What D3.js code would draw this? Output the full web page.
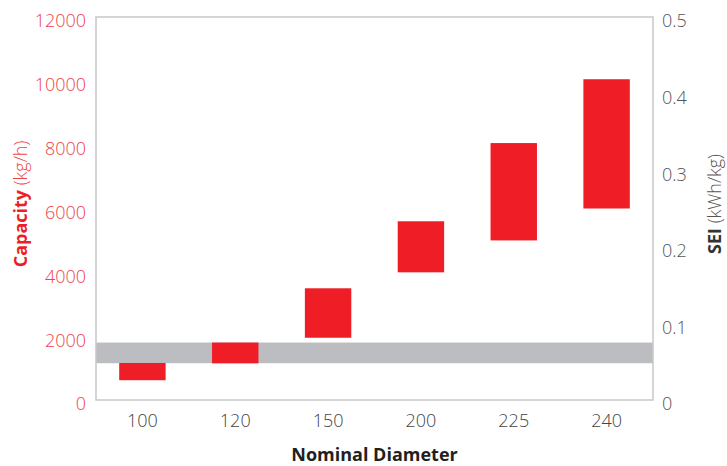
<!DOCTYPE html>
<html>
<head>
<meta charset="utf-8">
<script src="https://cdn.jsdelivr.net/npm/d3@7"></script>
<style>
  body { margin: 0; background: #fff; }
  text { font-family: "Open Sans", sans-serif; }
</style>
</head>
<body>
<script>
// nominal diameters and capacity range per size (kg/h)
const diameters = ["100", "120", "150", "200", "225", "240"];
const capLow  = [620, 1150, 1950, 4000, 5000, 6000];
const capHigh = [1160, 1800, 3500, 5600, 8050, 10050];
// SEI range (kWh/kg), shown as a grey band
const seiBand = [0.048, 0.075];
const capTicks = [0, 2000, 4000, 6000, 8000, 10000, 12000];
const seiTicks = [0, 0.1, 0.2, 0.3, 0.4, 0.5];

const width = 727, height = 466;
const m = {left: 96, right: 74, top: 17, bottom: 66};

const svg = d3.select("body").append("svg")
    .attr("width", width)
    .attr("height", height);

const x = d3.scaleBand()
    .domain(diameters)
    .range([m.left, width - m.right])
    .paddingInner(0.5)
    .paddingOuter(0.25);

const y = d3.scaleLinear()
    .domain([0, 12000])
    .range([height - m.bottom, m.top]);

const y2 = d3.scaleLinear()
    .domain([0, 0.5])
    .range([height - m.bottom, m.top]);

// grey SEI band
svg.append("rect")
    .attr("x", m.left)
    .attr("width", width - m.right - m.left)
    .attr("y", y2(seiBand[1]))
    .attr("height", y2(seiBand[0]) - y2(seiBand[1]))
    .attr("fill", "#bcbdc0");

// capacity bars
svg.selectAll(".bar")
    .data(diameters)
    .enter()
    .append("rect")
    .attr("class", "bar")
    .attr("x", function(d) { return x(d); })
    .attr("width", x.bandwidth())
    .attr("y", function(d, i) { return y(capHigh[i]); })
    .attr("height", function(d, i) { return y(capLow[i]) - y(capHigh[i]); })
    .attr("fill", "#ee1d26");

// frame
svg.append("rect")
    .attr("x", m.left)
    .attr("y", m.top)
    .attr("width", width - m.right - m.left)
    .attr("height", height - m.bottom - m.top)
    .attr("fill", "none")
    .attr("stroke", "#c8c8c8")
    .attr("stroke-width", 1.5);

// left axis
const leftAxis = svg.append("g")
    .attr("transform", "translate(" + m.left + ",0)")
    .call(d3.axisLeft(y).tickValues(capTicks).tickSize(0).tickPadding(10)
        .tickFormat(d3.format("d")));
leftAxis.select(".domain").remove();
leftAxis.selectAll("text")
    .attr("dy", "0.55em")
    .attr("fill", "#ef4249")
    .style("font-size", "18px")
    .style("font-weight", 300);

// right axis
const rightAxis = svg.append("g")
    .attr("transform", "translate(" + (width - m.right) + ",0)")
    .call(d3.axisRight(y2).tickValues(seiTicks).tickSize(0).tickPadding(9)
        .tickFormat(function(d) { return d === 0 ? "0" : d3.format(".1f")(d); }));
rightAxis.select(".domain").remove();
rightAxis.selectAll("text")
    .attr("dy", "0.55em")
    .attr("fill", "#555")
    .style("font-size", "18px")
    .style("font-weight", 300);

// bottom axis
const bottomAxis = svg.append("g")
    .attr("transform", "translate(0," + (height - m.bottom) + ")")
    .call(d3.axisBottom(x).tickSize(0).tickPadding(14));
bottomAxis.select(".domain").remove();
bottomAxis.selectAll("text")
    .attr("fill", "#444")
    .style("font-size", "18px")
    .style("font-weight", 300);

// axis titles
const capTitle = svg.append("text")
    .attr("transform", "translate(27,204) rotate(-90)")
    .attr("text-anchor", "middle")
    .attr("fill", "#ee1d26")
    .style("font-size", "18px");
capTitle.append("tspan").style("font-weight", 700).text("Capacity");
capTitle.append("tspan").style("font-weight", 300).attr("fill", "#ef4249").text(" (kg/h)");

const seiTitle = svg.append("text")
    .attr("transform", "translate(721,204) rotate(-90)")
    .attr("text-anchor", "middle")
    .attr("fill", "#333")
    .style("font-size", "18px");
seiTitle.append("tspan").style("font-weight", 700).text("SEI");
seiTitle.append("tspan").style("font-weight", 300).attr("fill", "#555").text(" (kWh/kg)");

svg.append("text")
    .attr("x", (m.left + width - m.right) / 2)
    .attr("y", 461)
    .attr("text-anchor", "middle")
    .attr("fill", "#231f20")
    .style("font-size", "18px")
    .style("font-weight", 700)
    .text("Nominal Diameter");
</script>
</body>
</html>
